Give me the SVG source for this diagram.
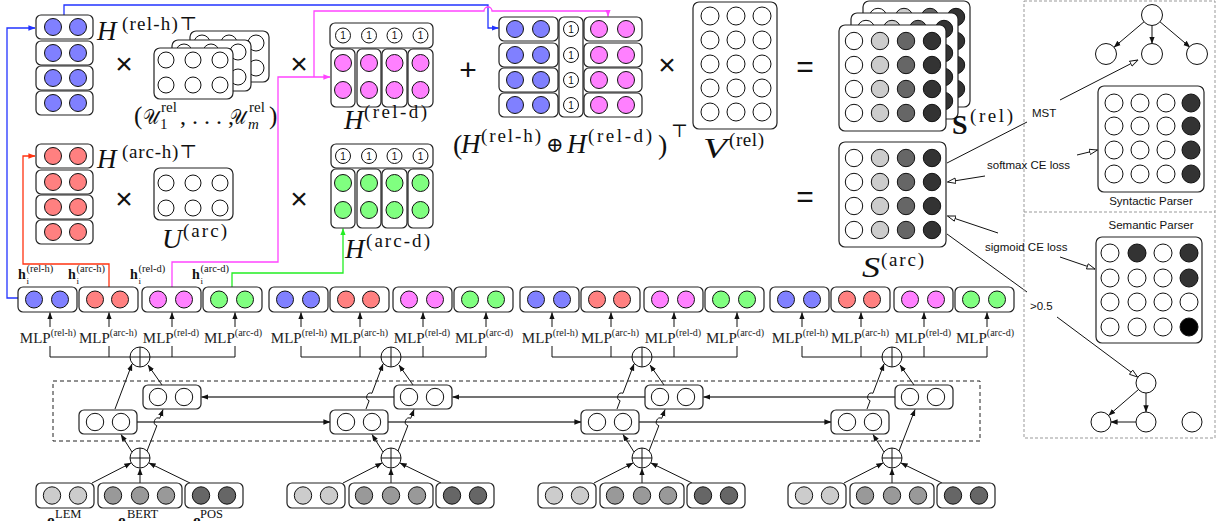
<svg xmlns="http://www.w3.org/2000/svg" width="1226" height="521" viewBox="0 0 1226 521">
<style>
.bx{fill:#fff;stroke:#222;stroke-width:1.2}
.c{stroke:#111;stroke-width:1}
.w{fill:#fff}.bl{fill:#8080ff}.rd{fill:#ff8080}.mg{fill:#ff80ff}.gr{fill:#80ff80}
.g1{fill:#cccccc}.g2{fill:#999999}.g3{fill:#666666}.g4{fill:#333333}.k{fill:#000}
.m{font-family:"Liberation Serif","DejaVu Serif",serif;fill:#111}
.it{font-style:italic}
.s{font-family:"Liberation Sans",Arial,sans-serif;fill:#111;font-size:11.5px}
.ln{fill:none;stroke:#111;stroke-width:1}
.lg{fill:none;stroke:#444;stroke-width:1.3}
.op{font-family:"Liberation Sans","DejaVu Sans",sans-serif;font-size:30px;fill:#111;text-anchor:middle}
.one{font-family:"Liberation Sans",sans-serif;font-size:10px;text-anchor:middle;fill:#111}
.mlp{font-family:"Liberation Serif","DejaVu Serif",serif;font-size:15px;fill:#222;text-anchor:middle}
.hb{font-family:"Liberation Serif","DejaVu Serif",serif;fill:#111}
</style>
<defs>
<marker id="aK" viewBox="0 0 10 10" refX="9.5" refY="5" markerWidth="7" markerHeight="7" orient="auto" markerUnits="userSpaceOnUse"><path d="M0,1.2 L10,5 L0,8.8 z" fill="#111"/></marker>
<marker id="aB" viewBox="0 0 10 10" refX="9.5" refY="5" markerWidth="7" markerHeight="7" orient="auto" markerUnits="userSpaceOnUse"><path d="M0,1.2 L10,5 L0,8.8 z" fill="#2233ff"/></marker>
<marker id="aR" viewBox="0 0 10 10" refX="9.5" refY="5" markerWidth="7" markerHeight="7" orient="auto" markerUnits="userSpaceOnUse"><path d="M0,1.2 L10,5 L0,8.8 z" fill="#ff3311"/></marker>
<marker id="aM" viewBox="0 0 10 10" refX="9.5" refY="5" markerWidth="7" markerHeight="7" orient="auto" markerUnits="userSpaceOnUse"><path d="M0,1.2 L10,5 L0,8.8 z" fill="#ff44ff"/></marker>
<marker id="aG" viewBox="0 0 10 10" refX="9.5" refY="5" markerWidth="7" markerHeight="7" orient="auto" markerUnits="userSpaceOnUse"><path d="M0,1.2 L10,5 L0,8.8 z" fill="#22ee22"/></marker>
<marker id="aO" viewBox="0 0 10 10" refX="9.5" refY="5" markerWidth="9" markerHeight="9" orient="auto" markerUnits="userSpaceOnUse"><path d="M0.5,2 L9.5,5 L0.5,8 z" fill="#fff" stroke="#111" stroke-width="1"/></marker>
</defs>
<rect width="1226" height="521" fill="#fff"/>

<!-- connectors -->
<g id="connectors">
 <g id="colored-links" stroke-width="1.3" fill="none">
  <path d="M18,298 H7 V28 H35" stroke="#2233ff" marker-end="url(#aB)"/>
  <path d="M64,15 V5 H488 V28 H498.5" stroke="#2233ff" marker-end="url(#aB)"/>
  <path d="M109,287 V264 H23 V156 H35" stroke="#ff3311" marker-end="url(#aR)"/>
  <path d="M172,287 V262 H278 V77 H330" stroke="#ff44ff" marker-end="url(#aM)"/>
  <path d="M314,77 V11 H484 A4,4 0 0 1 492,11 H608 V16.5" stroke="#ff44ff" marker-end="url(#aM)"/>
  <path d="M232,287 V273 H343 V228.5" stroke="#22ee22" marker-end="url(#aG)"/>
 </g>
 <g id="loss-links">
  <path class="ln" d="M947,163 L1027,122"/>
  <path class="ln" d="M1060,100 L1138,60" marker-end="url(#aO)"/>
  <path class="ln" d="M985,176 L947.5,182" marker-end="url(#aO)"/>
  <path class="ln" d="M1077,155 L1097.5,150" marker-end="url(#aO)"/>
  <path class="ln" d="M998,233 L947.5,216" marker-end="url(#aO)"/>
  <path class="ln" d="M1060,257 L1095,269" marker-end="url(#aO)"/>
  <path class="ln" d="M947,234 L1027,292"/>
  <path class="ln" d="M1057,317 L1137.5,377" marker-end="url(#aO)"/>
 </g>
 <g id="tree-links">
  <path class="ln" d="M1144,21.8 L1114,47.2" marker-end="url(#aK)"/>
  <path class="ln" d="M1152,25.5 V43.5" marker-end="url(#aK)"/>
  <path class="ln" d="M1160,21.8 L1190,47.2" marker-end="url(#aK)"/>
  <path class="ln" d="M1138.4,389.6 L1108.6,415.4" marker-end="url(#aK)"/>
  <path class="ln" d="M1146,393 V412" marker-end="url(#aK)"/>
  <path class="ln" d="M1136,422 H1111" marker-end="url(#aK)"/>
 </g>
 <g id="lstm-links">
  <path class="lg" d="M137,422 H330" marker-end="url(#aK)"/>
  <path class="lg" d="M388,422 H581" marker-end="url(#aK)"/>
  <path class="lg" d="M639,422 H831" marker-end="url(#aK)"/>
  <path class="lg" d="M394,397 H201.5" marker-end="url(#aK)"/>
  <path class="lg" d="M645,397 H452.5" marker-end="url(#aK)"/>
  <path class="lg" d="M895,397 H703.5" marker-end="url(#aK)"/>
 </g>
 <g id="col1-links" transform="translate(18,0)">
  <path class="ln" d="M32,357 H217 M32,357 V346 M91,357 V346 M154,357 V346 M217,357 V346"/>
  <path class="ln" d="M32,327 V312.5" marker-end="url(#aK)"/><path class="ln" d="M91,327 V312.5" marker-end="url(#aK)"/><path class="ln" d="M154,327 V312.5" marker-end="url(#aK)"/><path class="ln" d="M217,327 V312.5" marker-end="url(#aK)"/>
  <path class="ln" d="M114,452 L103,434.5" marker-end="url(#aK)"/>
  <path class="ln" d="M129,451 L138.85,425.73 A4,4 0 0 1 141.75,418.27 L145,409.5" marker-end="url(#aK)"/>
  <path class="ln" d="M97,409 L114,364" marker-end="url(#aK)"/>
  <path class="ln" d="M144,385 L130,365" marker-end="url(#aK)"/>
  <path class="ln" d="M74,483 L113,463" marker-end="url(#aK)"/>
  <path class="ln" d="M122,483 V468.5" marker-end="url(#aK)"/>
  <path class="ln" d="M172,483 L131,463" marker-end="url(#aK)"/>
 </g>
 <g id="col2-links" transform="translate(269,0)">
  <path class="ln" d="M32,357 H217 M32,357 V346 M91,357 V346 M154,357 V346 M217,357 V346"/>
  <path class="ln" d="M32,327 V312.5" marker-end="url(#aK)"/><path class="ln" d="M91,327 V312.5" marker-end="url(#aK)"/><path class="ln" d="M154,327 V312.5" marker-end="url(#aK)"/><path class="ln" d="M217,327 V312.5" marker-end="url(#aK)"/>
  <path class="ln" d="M114,452 L103,434.5" marker-end="url(#aK)"/>
  <path class="ln" d="M129,451 L138.85,425.73 A4,4 0 0 1 141.75,418.27 L145,409.5" marker-end="url(#aK)"/>
  <path class="ln" d="M97,409 L100.12,400.74 A4,4 0 0 1 102.94,393.26 L114,364" marker-end="url(#aK)"/>
  <path class="ln" d="M144,385 L130,365" marker-end="url(#aK)"/>
  <path class="ln" d="M74,483 L113,463" marker-end="url(#aK)"/>
  <path class="ln" d="M122,483 V468.5" marker-end="url(#aK)"/>
  <path class="ln" d="M172,483 L131,463" marker-end="url(#aK)"/>
 </g>
 <g id="col3-links" transform="translate(520,0)">
  <path class="ln" d="M32,357 H217 M32,357 V346 M91,357 V346 M154,357 V346 M217,357 V346"/>
  <path class="ln" d="M32,327 V312.5" marker-end="url(#aK)"/><path class="ln" d="M91,327 V312.5" marker-end="url(#aK)"/><path class="ln" d="M154,327 V312.5" marker-end="url(#aK)"/><path class="ln" d="M217,327 V312.5" marker-end="url(#aK)"/>
  <path class="ln" d="M114,452 L103,434.5" marker-end="url(#aK)"/>
  <path class="ln" d="M129,451 L138.85,425.73 A4,4 0 0 1 141.75,418.27 L145,409.5" marker-end="url(#aK)"/>
  <path class="ln" d="M97,409 L100.12,400.74 A4,4 0 0 1 102.94,393.26 L114,364" marker-end="url(#aK)"/>
  <path class="ln" d="M144,385 L130,365" marker-end="url(#aK)"/>
  <path class="ln" d="M74,483 L113,463" marker-end="url(#aK)"/>
  <path class="ln" d="M122,483 V468.5" marker-end="url(#aK)"/>
  <path class="ln" d="M172,483 L131,463" marker-end="url(#aK)"/>
 </g>
 <g id="col4-links" transform="translate(770,0)">
  <path class="ln" d="M32,357 H217 M32,357 V346 M91,357 V346 M154,357 V346 M217,357 V346"/>
  <path class="ln" d="M32,327 V312.5" marker-end="url(#aK)"/><path class="ln" d="M91,327 V312.5" marker-end="url(#aK)"/><path class="ln" d="M154,327 V312.5" marker-end="url(#aK)"/><path class="ln" d="M217,327 V312.5" marker-end="url(#aK)"/>
  <path class="ln" d="M114,452 L103,434.5" marker-end="url(#aK)"/>
  <path class="ln" d="M129,451 L145,409.5" marker-end="url(#aK)"/>
  <path class="ln" d="M97,409 L100.12,400.74 A4,4 0 0 1 102.94,393.26 L114,364" marker-end="url(#aK)"/>
  <path class="ln" d="M144,385 L130,365" marker-end="url(#aK)"/>
  <path class="ln" d="M74,483 L113,463" marker-end="url(#aK)"/>
  <path class="ln" d="M122,483 V468.5" marker-end="url(#aK)"/>
  <path class="ln" d="M172,483 L131,463" marker-end="url(#aK)"/>
 </g>
</g>

<!-- dashed frames -->
<rect id="bilstm-frame" x="53" y="381" width="927" height="60" fill="none" stroke="#222" stroke-width="1" stroke-dasharray="4,3"/>
<g id="parser-frames" fill="none" stroke="#999" stroke-width="1" stroke-dasharray="3,2">
 <rect x="1024" y="1" width="191" height="437"/>
 <path d="M1024,212 H1215"/>
</g>

<!-- H(rel-h)T -->
<g id="H-relh-T">
 <rect class="bx" x="36" y="15" width="57" height="24" rx="5"/><circle class="c bl" cx="53" cy="27" r="8.5"/><circle class="c bl" cx="78" cy="27" r="8.5"/>
 <rect class="bx" x="36" y="41" width="57" height="24" rx="5"/><circle class="c bl" cx="53" cy="53" r="8.5"/><circle class="c bl" cx="78" cy="53" r="8.5"/>
 <rect class="bx" x="36" y="66" width="57" height="24" rx="5"/><circle class="c bl" cx="53" cy="78" r="8.5"/><circle class="c bl" cx="78" cy="78" r="8.5"/>
 <rect class="bx" x="36" y="91" width="57" height="24" rx="5"/><circle class="c bl" cx="53" cy="103" r="8.5"/><circle class="c bl" cx="78" cy="103" r="8.5"/>
 <text class="m it" font-size="27" x="97" y="40">H</text>
 <text class="m" font-size="19" x="122" y="30" textLength="75" lengthAdjust="spacing">(rel-h)⊤</text>
</g>
<!-- H(arc-h)T -->
<g id="H-arch-T">
 <rect class="bx" x="36" y="144" width="57" height="24" rx="5"/><circle class="c rd" cx="53" cy="156" r="8.5"/><circle class="c rd" cx="78" cy="156" r="8.5"/>
 <rect class="bx" x="36" y="170" width="57" height="24" rx="5"/><circle class="c rd" cx="53" cy="182" r="8.5"/><circle class="c rd" cx="78" cy="182" r="8.5"/>
 <rect class="bx" x="36" y="195" width="57" height="24" rx="5"/><circle class="c rd" cx="53" cy="207" r="8.5"/><circle class="c rd" cx="78" cy="207" r="8.5"/>
 <rect class="bx" x="36" y="220" width="57" height="24" rx="5"/><circle class="c rd" cx="53" cy="232" r="8.5"/><circle class="c rd" cx="78" cy="232" r="8.5"/>
 <text class="m it" font-size="27" x="97" y="168">H</text>
 <text class="m" font-size="19" x="122" y="158" textLength="75" lengthAdjust="spacing">(arc-h)⊤</text>
</g>

<g id="operators">
 <text class="op" x="124" y="74">×</text>
 <text class="op" x="124" y="209">×</text>
 <text class="op" x="299" y="74">×</text>
 <text class="op" x="299" y="209">×</text>
 <text class="op" x="468" y="80">+</text>
 <text class="op" x="667" y="75">×</text>
 <text class="op" x="805" y="77">=</text>
 <text class="op" x="805" y="207">=</text>
</g>

<!-- U rel stack -->
<g id="U-rel">
 <g transform="translate(190,31)"><rect class="bx" width="79" height="51" rx="6"/><circle class="c w" cx="12" cy="12" r="8"/><circle class="c w" cx="39" cy="12" r="8"/><circle class="c w" cx="66" cy="12" r="8"/><circle class="c w" cx="12" cy="37" r="8"/><circle class="c w" cx="39" cy="37" r="8"/><circle class="c w" cx="66" cy="37" r="8"/></g>
 <g transform="translate(172,40)"><rect class="bx" width="79" height="51" rx="6"/><circle class="c w" cx="12" cy="12" r="8"/><circle class="c w" cx="39" cy="12" r="8"/><circle class="c w" cx="66" cy="12" r="8"/><circle class="c w" cx="12" cy="37" r="8"/><circle class="c w" cx="39" cy="37" r="8"/><circle class="c w" cx="66" cy="37" r="8"/></g>
 <g transform="translate(154,48)"><rect class="bx" width="79" height="51" rx="6"/><circle class="c w" cx="12" cy="12" r="8"/><circle class="c w" cx="39" cy="12" r="8"/><circle class="c w" cx="66" cy="12" r="8"/><circle class="c w" cx="12" cy="37" r="8"/><circle class="c w" cx="39" cy="37" r="8"/><circle class="c w" cx="66" cy="37" r="8"/></g>
 <text class="m" font-size="25" x="134" y="124">(</text>
 <text class="m" font-size="21" x="143" y="124" textLength="16" lengthAdjust="spacingAndGlyphs">𝒰</text>
 <text class="m" font-size="15" x="161" y="112">rel</text>
 <text class="m" font-size="15" x="160" y="129">1</text>
 <text class="m" font-size="24" x="180" y="124">, . . . ,</text>
 <text class="m" font-size="21" x="230" y="124" textLength="16" lengthAdjust="spacingAndGlyphs">𝒰</text>
 <text class="m" font-size="15" x="249" y="112">rel</text>
 <text class="m it" font-size="15" x="248" y="129">m</text>
 <text class="m" font-size="25" x="269" y="124">)</text>
</g>
<!-- U arc -->
<g id="U-arc">
 <g transform="translate(154,168)"><rect class="bx" width="79" height="52" rx="6"/><circle class="c w" cx="12" cy="15" r="8"/><circle class="c w" cx="39" cy="15" r="8"/><circle class="c w" cx="66" cy="15" r="8"/><circle class="c w" cx="12" cy="40" r="8"/><circle class="c w" cx="39" cy="40" r="8"/><circle class="c w" cx="66" cy="40" r="8"/></g>
 <text class="m it" font-size="28" x="162" y="248">U</text>
 <text class="m" font-size="19" x="183" y="237" textLength="44" lengthAdjust="spacing">(arc)</text>
</g>

<!-- H(rel-d) -->
<g id="H-reld">
 <rect class="bx" x="330" y="23" width="103" height="25" rx="5"/>
 <circle class="c w" cx="343" cy="35.5" r="7.5"/><circle class="c w" cx="369" cy="35.5" r="7.5"/><circle class="c w" cx="394.5" cy="35.5" r="7.5"/><circle class="c w" cx="420.5" cy="35.5" r="7.5"/>
 <text class="one" x="343" y="39">1</text><text class="one" x="369" y="39">1</text><text class="one" x="394.5" y="39">1</text><text class="one" x="420.5" y="39">1</text>
 <rect class="bx" x="331" y="49" width="24" height="58" rx="5"/><rect class="bx" x="357" y="49" width="24" height="58" rx="5"/><rect class="bx" x="382" y="49" width="25" height="58" rx="5"/><rect class="bx" x="408" y="49" width="25" height="58" rx="5"/>
 <circle class="c mg" cx="343" cy="63" r="8.5"/><circle class="c mg" cx="369" cy="63" r="8.5"/><circle class="c mg" cx="394.5" cy="63" r="8.5"/><circle class="c mg" cx="420.5" cy="63" r="8.5"/>
 <circle class="c mg" cx="343" cy="90" r="8.5"/><circle class="c mg" cx="369" cy="90" r="8.5"/><circle class="c mg" cx="394.5" cy="90" r="8.5"/><circle class="c mg" cx="420.5" cy="90" r="8.5"/>
 <text class="m it" font-size="27" x="344" y="129">H</text>
 <text class="m" font-size="19" x="364" y="118" textLength="63" lengthAdjust="spacing">(rel-d)</text>
</g>
<!-- H(arc-d) -->
<g id="H-arcd">
 <rect class="bx" x="331" y="144" width="102" height="24" rx="5"/>
 <circle class="c w" cx="343" cy="156" r="7.5"/><circle class="c w" cx="369" cy="156" r="7.5"/><circle class="c w" cx="394.5" cy="156" r="7.5"/><circle class="c w" cx="420.5" cy="156" r="7.5"/>
 <text class="one" x="343" y="159.5">1</text><text class="one" x="369" y="159.5">1</text><text class="one" x="394.5" y="159.5">1</text><text class="one" x="420.5" y="159.5">1</text>
 <rect class="bx" x="331" y="169" width="24" height="59" rx="5"/><rect class="bx" x="357" y="169" width="24" height="59" rx="5"/><rect class="bx" x="382" y="169" width="25" height="59" rx="5"/><rect class="bx" x="408" y="169" width="25" height="59" rx="5"/>
 <circle class="c gr" cx="343" cy="183" r="8.5"/><circle class="c gr" cx="369" cy="183" r="8.5"/><circle class="c gr" cx="394.5" cy="183" r="8.5"/><circle class="c gr" cx="420.5" cy="183" r="8.5"/>
 <circle class="c gr" cx="343" cy="210" r="8.5"/><circle class="c gr" cx="369" cy="210" r="8.5"/><circle class="c gr" cx="394.5" cy="210" r="8.5"/><circle class="c gr" cx="420.5" cy="210" r="8.5"/>
 <text class="m it" font-size="27" x="345" y="258">H</text>
 <text class="m" font-size="19" x="366" y="247" textLength="64" lengthAdjust="spacing">(arc-d)</text>
</g>

<!-- concat -->
<g id="H-concat-T">
 <rect class="bx" x="499" y="17" width="59" height="24" rx="5"/><circle class="c bl" cx="515" cy="29" r="8.5"/><circle class="c bl" cx="541" cy="29" r="8.5"/>
 <rect class="bx" x="499" y="43" width="59" height="24" rx="5"/><circle class="c bl" cx="515" cy="55" r="8.5"/><circle class="c bl" cx="541" cy="55" r="8.5"/>
 <rect class="bx" x="499" y="68" width="59" height="24" rx="5"/><circle class="c bl" cx="515" cy="80" r="8.5"/><circle class="c bl" cx="541" cy="80" r="8.5"/>
 <rect class="bx" x="499" y="93" width="59" height="24" rx="5"/><circle class="c bl" cx="515" cy="105" r="8.5"/><circle class="c bl" cx="541" cy="105" r="8.5"/>
 <rect class="bx" x="559" y="17" width="24" height="100" rx="5"/>
 <circle class="c w" cx="571" cy="29" r="7.5"/><circle class="c w" cx="571" cy="55" r="7.5"/><circle class="c w" cx="571" cy="80" r="7.5"/><circle class="c w" cx="571" cy="105" r="7.5"/>
 <text class="one" x="571" y="32.5">1</text><text class="one" x="571" y="58.5">1</text><text class="one" x="571" y="83.5">1</text><text class="one" x="571" y="108.5">1</text>
 <rect class="bx" x="584" y="17" width="58" height="24" rx="5"/><circle class="c mg" cx="599" cy="29" r="8.5"/><circle class="c mg" cx="626" cy="29" r="8.5"/>
 <rect class="bx" x="584" y="43" width="58" height="24" rx="5"/><circle class="c mg" cx="599" cy="55" r="8.5"/><circle class="c mg" cx="626" cy="55" r="8.5"/>
 <rect class="bx" x="584" y="68" width="58" height="24" rx="5"/><circle class="c mg" cx="599" cy="80" r="8.5"/><circle class="c mg" cx="626" cy="80" r="8.5"/>
 <rect class="bx" x="584" y="93" width="58" height="24" rx="5"/><circle class="c mg" cx="599" cy="105" r="8.5"/><circle class="c mg" cx="626" cy="105" r="8.5"/>
 <text class="m" font-size="28" x="453" y="154">(</text>
 <text class="m it" font-size="27" x="461" y="153">H</text>
 <text class="m" font-size="19" x="481" y="142" textLength="60" lengthAdjust="spacing">(rel-h)</text>
 <text class="m" font-size="21" x="546" y="152">⊕</text>
 <text class="m it" font-size="27" x="567" y="153">H</text>
 <text class="m" font-size="19" x="588" y="142" textLength="64" lengthAdjust="spacing">(rel-d)</text>
 <text class="m" font-size="28" x="658" y="154">)</text>
 <text class="m" font-size="18" x="671" y="137">⊤</text>
</g>

<!-- V rel -->
<g id="V-rel">
 <rect class="bx" x="693" y="2" width="84" height="127" rx="6"/>
 <circle class="c w" cx="710" cy="16" r="9"/><circle class="c w" cx="736" cy="16" r="9"/><circle class="c w" cx="762" cy="16" r="9"/>
 <circle class="c w" cx="710" cy="40" r="9"/><circle class="c w" cx="736" cy="40" r="9"/><circle class="c w" cx="762" cy="40" r="9"/>
 <circle class="c w" cx="710" cy="64" r="9"/><circle class="c w" cx="736" cy="64" r="9"/><circle class="c w" cx="762" cy="64" r="9"/>
 <circle class="c w" cx="710" cy="88" r="9"/><circle class="c w" cx="736" cy="88" r="9"/><circle class="c w" cx="762" cy="88" r="9"/>
 <circle class="c w" cx="710" cy="112" r="9"/><circle class="c w" cx="736" cy="112" r="9"/><circle class="c w" cx="762" cy="112" r="9"/>
 <text class="m it" font-size="29" x="703" y="158" textLength="24" lengthAdjust="spacingAndGlyphs">V</text>
 <text class="m" font-size="19" x="729" y="146" textLength="35" lengthAdjust="spacing">(rel)</text>
</g>

<!-- S rel -->
<g id="S-rel">
 <g transform="translate(863,1)"><rect class="bx" width="107" height="106" rx="6"/><g>
  <circle class="c w" cx="15" cy="16" r="8.7"/><circle class="c g1" cx="41" cy="16" r="8.7"/><circle class="c g3" cx="67" cy="16" r="8.7"/><circle class="c g4" cx="93" cy="16" r="8.7"/>
  <circle class="c w" cx="15" cy="40" r="8.7"/><circle class="c g1" cx="41" cy="40" r="8.7"/><circle class="c g3" cx="67" cy="40" r="8.7"/><circle class="c g4" cx="93" cy="40" r="8.7"/>
  <circle class="c w" cx="15" cy="64" r="8.7"/><circle class="c g1" cx="41" cy="64" r="8.7"/><circle class="c g3" cx="67" cy="64" r="8.7"/><circle class="c g4" cx="93" cy="64" r="8.7"/>
  <circle class="c w" cx="15" cy="88" r="8.7"/><circle class="c g1" cx="41" cy="88" r="8.7"/><circle class="c g3" cx="67" cy="88" r="8.7"/><circle class="c g4" cx="93" cy="88" r="8.7"/></g></g>
 <g transform="translate(851,13)"><rect class="bx" width="107" height="106" rx="6"/><g>
  <circle class="c w" cx="15" cy="16" r="8.7"/><circle class="c g1" cx="41" cy="16" r="8.7"/><circle class="c g3" cx="67" cy="16" r="8.7"/><circle class="c g4" cx="93" cy="16" r="8.7"/>
  <circle class="c w" cx="15" cy="40" r="8.7"/><circle class="c g1" cx="41" cy="40" r="8.7"/><circle class="c g3" cx="67" cy="40" r="8.7"/><circle class="c g4" cx="93" cy="40" r="8.7"/>
  <circle class="c w" cx="15" cy="64" r="8.7"/><circle class="c g1" cx="41" cy="64" r="8.7"/><circle class="c g3" cx="67" cy="64" r="8.7"/><circle class="c g4" cx="93" cy="64" r="8.7"/>
  <circle class="c w" cx="15" cy="88" r="8.7"/><circle class="c g1" cx="41" cy="88" r="8.7"/><circle class="c g3" cx="67" cy="88" r="8.7"/><circle class="c g4" cx="93" cy="88" r="8.7"/></g></g>
 <g transform="translate(839,25)"><rect class="bx" width="107" height="106" rx="6"/><g>
  <circle class="c w" cx="15" cy="16" r="8.7"/><circle class="c g1" cx="41" cy="16" r="8.7"/><circle class="c g3" cx="67" cy="16" r="8.7"/><circle class="c g4" cx="93" cy="16" r="8.7"/>
  <circle class="c w" cx="15" cy="40" r="8.7"/><circle class="c g1" cx="41" cy="40" r="8.7"/><circle class="c g3" cx="67" cy="40" r="8.7"/><circle class="c g4" cx="93" cy="40" r="8.7"/>
  <circle class="c w" cx="15" cy="64" r="8.7"/><circle class="c g1" cx="41" cy="64" r="8.7"/><circle class="c g3" cx="67" cy="64" r="8.7"/><circle class="c g4" cx="93" cy="64" r="8.7"/>
  <circle class="c w" cx="15" cy="88" r="8.7"/><circle class="c g1" cx="41" cy="88" r="8.7"/><circle class="c g3" cx="67" cy="88" r="8.7"/><circle class="c g4" cx="93" cy="88" r="8.7"/></g></g>
 <text class="m" font-size="28" x="952" y="134" font-weight="bold">S</text>
 <text class="m" font-size="19" x="970" y="122" textLength="43" lengthAdjust="spacing">(rel)</text>
</g>

<!-- S arc -->
<g id="S-arc">
 <g transform="translate(839,142)"><rect class="bx" width="107" height="105" rx="6"/>
  <circle class="c w" cx="15" cy="16" r="8.7"/><circle class="c g1" cx="41" cy="16" r="8.7"/><circle class="c g3" cx="67" cy="16" r="8.7"/><circle class="c g4" cx="93" cy="16" r="8.7"/>
  <circle class="c w" cx="15" cy="40" r="8.7"/><circle class="c g1" cx="41" cy="40" r="8.7"/><circle class="c g3" cx="67" cy="40" r="8.7"/><circle class="c g4" cx="93" cy="40" r="8.7"/>
  <circle class="c w" cx="15" cy="64" r="8.7"/><circle class="c g1" cx="41" cy="64" r="8.7"/><circle class="c g3" cx="67" cy="64" r="8.7"/><circle class="c g4" cx="93" cy="64" r="8.7"/>
  <circle class="c w" cx="15" cy="88" r="8.7"/><circle class="c g1" cx="41" cy="88" r="8.7"/><circle class="c g3" cx="67" cy="88" r="8.7"/><circle class="c g4" cx="93" cy="88" r="8.7"/></g>
 <text class="m it" font-size="29" x="862" y="277" textLength="18" lengthAdjust="spacingAndGlyphs">S</text>
 <text class="m" font-size="19" x="881" y="266" textLength="43" lengthAdjust="spacing">(arc)</text>
</g>

<!-- right panel -->
<g id="loss-labels">
 <text class="s" x="1032" y="117">MST</text>
 <text class="s" x="987" y="169">softmax CE loss</text>
 <text class="s" x="985" y="251">sigmoid CE loss</text>
 <text class="s" x="1030" y="310">&gt;0.5</text>
</g>
<g id="syntactic-tree">
 <circle class="c w" cx="1152" cy="15" r="10.5"/>
 <circle class="c w" cx="1106" cy="54" r="10.5"/>
 <circle class="c w" cx="1152" cy="54" r="10.5"/>
 <circle class="c w" cx="1197" cy="54" r="10.5"/>
</g>
<g id="syntactic-matrix">
 <rect class="bx" x="1098" y="86" width="106" height="106" rx="6"/>
 <circle class="c w" cx="1114" cy="103" r="9"/><circle class="c w" cx="1140" cy="103" r="9"/><circle class="c w" cx="1166" cy="103" r="9"/><circle class="c g4" cx="1191" cy="103" r="9"/>
 <circle class="c w" cx="1114" cy="126" r="9"/><circle class="c w" cx="1140" cy="126" r="9"/><circle class="c w" cx="1166" cy="126" r="9"/><circle class="c g4" cx="1191" cy="126" r="9"/>
 <circle class="c w" cx="1114" cy="150" r="9"/><circle class="c w" cx="1140" cy="150" r="9"/><circle class="c w" cx="1166" cy="150" r="9"/><circle class="c g4" cx="1191" cy="150" r="9"/>
 <circle class="c w" cx="1114" cy="174" r="9"/><circle class="c w" cx="1140" cy="174" r="9"/><circle class="c w" cx="1166" cy="174" r="9"/><circle class="c g4" cx="1191" cy="174" r="9"/>
 <text class="s" x="1151" y="205" text-anchor="middle">Syntactic Parser</text>
</g>
<g id="semantic-matrix">
 <text class="s" x="1151" y="229" text-anchor="middle">Semantic Parser</text>
 <rect class="bx" x="1096" y="237" width="106" height="106" rx="6"/>
 <circle class="c w" cx="1110" cy="253" r="9"/><circle class="c g4" cx="1137" cy="253" r="9"/><circle class="c w" cx="1163" cy="253" r="9"/><circle class="c g4" cx="1189" cy="253" r="9"/>
 <circle class="c w" cx="1110" cy="278" r="9"/><circle class="c w" cx="1137" cy="278" r="9"/><circle class="c w" cx="1163" cy="278" r="9"/><circle class="c g4" cx="1189" cy="278" r="9"/>
 <circle class="c w" cx="1110" cy="302" r="9"/><circle class="c w" cx="1137" cy="302" r="9"/><circle class="c w" cx="1163" cy="302" r="9"/><circle class="c w" cx="1189" cy="302" r="9"/>
 <circle class="c w" cx="1110" cy="327" r="9"/><circle class="c w" cx="1137" cy="327" r="9"/><circle class="c w" cx="1163" cy="327" r="9"/><circle class="c k" cx="1189" cy="327" r="9"/>
</g>
<g id="semantic-graph">
 <circle class="c w" cx="1146" cy="383" r="10"/>
 <circle class="c w" cx="1101" cy="422" r="10"/>
 <circle class="c w" cx="1146" cy="422" r="10"/>
 <circle class="c w" cx="1192" cy="422" r="10"/>
</g>

<!-- columns -->
<g id="col1" transform="translate(18,0)">
 <g id="c1-h-relh"><rect class="bx" x="0" y="287" width="59" height="25" rx="5"/><circle class="c bl" cx="16" cy="299.5" r="8.5"/><circle class="c bl" cx="42" cy="299.5" r="8.5"/></g>
 <g id="c1-h-arch"><rect class="bx" x="61" y="287" width="59" height="25" rx="5"/><circle class="c rd" cx="77" cy="299.5" r="8.5"/><circle class="c rd" cx="102" cy="299.5" r="8.5"/></g>
 <g id="c1-h-reld"><rect class="bx" x="124" y="287" width="59" height="25" rx="5"/><circle class="c mg" cx="140" cy="299.5" r="8.5"/><circle class="c mg" cx="166" cy="299.5" r="8.5"/></g>
 <g id="c1-h-arcd"><rect class="bx" x="185" y="287" width="59" height="25" rx="5"/><circle class="c gr" cx="201" cy="299.5" r="8.5"/><circle class="c gr" cx="227" cy="299.5" r="8.5"/></g>
 <g id="c1-h-labels" class="hb">
  <text x="0" y="279" font-size="14" font-weight="bold">h</text><text x="8.5" y="272" font-size="10.5">(rel-h)</text><text x="8.5" y="284" font-size="9">i</text>
  <text x="50" y="279" font-size="14" font-weight="bold">h</text><text x="58.5" y="272" font-size="10.5">(arc-h)</text><text x="58.5" y="284" font-size="9">i</text>
  <text x="112" y="279" font-size="14" font-weight="bold">h</text><text x="120.5" y="272" font-size="10.5">(rel-d)</text><text x="120.5" y="284" font-size="9">i</text>
  <text x="174" y="279" font-size="14" font-weight="bold">h</text><text x="182.5" y="272" font-size="10.5">(arc-d)</text><text x="182.5" y="284" font-size="9">i</text>
 </g>
 <g id="c1-mlp">
  <text class="mlp" x="30" y="343">MLP<tspan dy="-7" font-size="10">(rel-h)</tspan></text>
  <text class="mlp" x="90" y="343">MLP<tspan dy="-7" font-size="10">(arc-h)</tspan></text>
  <text class="mlp" x="153" y="343">MLP<tspan dy="-7" font-size="10">(rel-d)</tspan></text>
  <text class="mlp" x="215" y="343">MLP<tspan dy="-7" font-size="10">(arc-d)</tspan></text>
 </g>
 <g id="c1-concat-top"><circle class="c w" cx="122" cy="357" r="10"/><path class="ln" d="M112,357 H132 M122,347 V367"/></g>
 <g id="c1-bwd"><rect class="bx" x="125" y="385" width="58" height="24" rx="5"/><circle class="c w" cx="140" cy="397" r="8.7"/><circle class="c w" cx="166" cy="397" r="8.7"/></g>
 <g id="c1-fwd"><rect class="bx" x="61" y="410" width="58" height="24" rx="5"/><circle class="c w" cx="77" cy="422" r="8.7"/><circle class="c w" cx="103" cy="422" r="8.7"/></g>
 <g id="c1-concat-in"><circle class="c w" cx="122" cy="458" r="10"/><path class="ln" d="M112,458 H132 M122,448 V468"/></g>
 <g id="c1-lem"><rect class="bx" x="18" y="483" width="58" height="25" rx="5"/><circle class="c g1" cx="34" cy="495.5" r="8.7"/><circle class="c g1" cx="60" cy="495.5" r="8.7"/></g>
 <g id="c1-bert"><rect class="bx" x="80" y="483" width="84" height="25" rx="5"/><circle class="c g2" cx="95" cy="495.5" r="8.7"/><circle class="c g2" cx="122" cy="495.5" r="8.7"/><circle class="c g2" cx="148" cy="495.5" r="8.7"/></g>
 <g id="c1-pos"><rect class="bx" x="167" y="483" width="58" height="25" rx="5"/><circle class="c g3" cx="183" cy="495.5" r="8.7"/><circle class="c g3" cx="209" cy="495.5" r="8.7"/></g>
 <g id="c1-e-labels" class="hb">
  <text x="29" y="526" font-size="17" font-weight="bold">e</text><text x="37" y="518" font-size="12.5">LEM</text>
  <text x="100" y="526" font-size="17" font-weight="bold">e</text><text x="109" y="518" font-size="12.5">BERT</text>
  <text x="175" y="526" font-size="17" font-weight="bold">e</text><text x="182" y="518" font-size="12.5">POS</text>
 </g>
</g>

<g id="col2" transform="translate(269,0)">
 <g id="c2-h-relh"><rect class="bx" x="0" y="287" width="59" height="25" rx="5"/><circle class="c bl" cx="16" cy="299.5" r="8.5"/><circle class="c bl" cx="42" cy="299.5" r="8.5"/></g>
 <g id="c2-h-arch"><rect class="bx" x="61" y="287" width="59" height="25" rx="5"/><circle class="c rd" cx="77" cy="299.5" r="8.5"/><circle class="c rd" cx="102" cy="299.5" r="8.5"/></g>
 <g id="c2-h-reld"><rect class="bx" x="124" y="287" width="59" height="25" rx="5"/><circle class="c mg" cx="140" cy="299.5" r="8.5"/><circle class="c mg" cx="166" cy="299.5" r="8.5"/></g>
 <g id="c2-h-arcd"><rect class="bx" x="185" y="287" width="59" height="25" rx="5"/><circle class="c gr" cx="201" cy="299.5" r="8.5"/><circle class="c gr" cx="227" cy="299.5" r="8.5"/></g>
 <g id="c2-mlp">
  <text class="mlp" x="30" y="343">MLP<tspan dy="-7" font-size="10">(rel-h)</tspan></text>
  <text class="mlp" x="90" y="343">MLP<tspan dy="-7" font-size="10">(arc-h)</tspan></text>
  <text class="mlp" x="153" y="343">MLP<tspan dy="-7" font-size="10">(rel-d)</tspan></text>
  <text class="mlp" x="215" y="343">MLP<tspan dy="-7" font-size="10">(arc-d)</tspan></text>
 </g>
 <g id="c2-concat-top"><circle class="c w" cx="122" cy="357" r="10"/><path class="ln" d="M112,357 H132 M122,347 V367"/></g>
 <g id="c2-bwd"><rect class="bx" x="125" y="385" width="58" height="24" rx="5"/><circle class="c w" cx="140" cy="397" r="8.7"/><circle class="c w" cx="166" cy="397" r="8.7"/></g>
 <g id="c2-fwd"><rect class="bx" x="61" y="410" width="58" height="24" rx="5"/><circle class="c w" cx="77" cy="422" r="8.7"/><circle class="c w" cx="103" cy="422" r="8.7"/></g>
 <g id="c2-concat-in"><circle class="c w" cx="122" cy="458" r="10"/><path class="ln" d="M112,458 H132 M122,448 V468"/></g>
 <g id="c2-lem"><rect class="bx" x="18" y="483" width="58" height="25" rx="5"/><circle class="c g1" cx="34" cy="495.5" r="8.7"/><circle class="c g1" cx="60" cy="495.5" r="8.7"/></g>
 <g id="c2-bert"><rect class="bx" x="80" y="483" width="84" height="25" rx="5"/><circle class="c g2" cx="95" cy="495.5" r="8.7"/><circle class="c g2" cx="122" cy="495.5" r="8.7"/><circle class="c g2" cx="148" cy="495.5" r="8.7"/></g>
 <g id="c2-pos"><rect class="bx" x="167" y="483" width="58" height="25" rx="5"/><circle class="c g3" cx="183" cy="495.5" r="8.7"/><circle class="c g3" cx="209" cy="495.5" r="8.7"/></g>
</g>

<g id="col3" transform="translate(520,0)">
 <g id="c3-h-relh"><rect class="bx" x="0" y="287" width="59" height="25" rx="5"/><circle class="c bl" cx="16" cy="299.5" r="8.5"/><circle class="c bl" cx="42" cy="299.5" r="8.5"/></g>
 <g id="c3-h-arch"><rect class="bx" x="61" y="287" width="59" height="25" rx="5"/><circle class="c rd" cx="77" cy="299.5" r="8.5"/><circle class="c rd" cx="102" cy="299.5" r="8.5"/></g>
 <g id="c3-h-reld"><rect class="bx" x="124" y="287" width="59" height="25" rx="5"/><circle class="c mg" cx="140" cy="299.5" r="8.5"/><circle class="c mg" cx="166" cy="299.5" r="8.5"/></g>
 <g id="c3-h-arcd"><rect class="bx" x="185" y="287" width="59" height="25" rx="5"/><circle class="c gr" cx="201" cy="299.5" r="8.5"/><circle class="c gr" cx="227" cy="299.5" r="8.5"/></g>
 <g id="c3-mlp">
  <text class="mlp" x="30" y="343">MLP<tspan dy="-7" font-size="10">(rel-h)</tspan></text>
  <text class="mlp" x="90" y="343">MLP<tspan dy="-7" font-size="10">(arc-h)</tspan></text>
  <text class="mlp" x="153" y="343">MLP<tspan dy="-7" font-size="10">(rel-d)</tspan></text>
  <text class="mlp" x="215" y="343">MLP<tspan dy="-7" font-size="10">(arc-d)</tspan></text>
 </g>
 <g id="c3-concat-top"><circle class="c w" cx="122" cy="357" r="10"/><path class="ln" d="M112,357 H132 M122,347 V367"/></g>
 <g id="c3-bwd"><rect class="bx" x="125" y="385" width="58" height="24" rx="5"/><circle class="c w" cx="140" cy="397" r="8.7"/><circle class="c w" cx="166" cy="397" r="8.7"/></g>
 <g id="c3-fwd"><rect class="bx" x="61" y="410" width="58" height="24" rx="5"/><circle class="c w" cx="77" cy="422" r="8.7"/><circle class="c w" cx="103" cy="422" r="8.7"/></g>
 <g id="c3-concat-in"><circle class="c w" cx="122" cy="458" r="10"/><path class="ln" d="M112,458 H132 M122,448 V468"/></g>
 <g id="c3-lem"><rect class="bx" x="18" y="483" width="58" height="25" rx="5"/><circle class="c g1" cx="34" cy="495.5" r="8.7"/><circle class="c g1" cx="60" cy="495.5" r="8.7"/></g>
 <g id="c3-bert"><rect class="bx" x="80" y="483" width="84" height="25" rx="5"/><circle class="c g2" cx="95" cy="495.5" r="8.7"/><circle class="c g2" cx="122" cy="495.5" r="8.7"/><circle class="c g2" cx="148" cy="495.5" r="8.7"/></g>
 <g id="c3-pos"><rect class="bx" x="167" y="483" width="58" height="25" rx="5"/><circle class="c g3" cx="183" cy="495.5" r="8.7"/><circle class="c g3" cx="209" cy="495.5" r="8.7"/></g>
</g>

<g id="col4" transform="translate(770,0)">
 <g id="c4-h-relh"><rect class="bx" x="0" y="287" width="59" height="25" rx="5"/><circle class="c bl" cx="16" cy="299.5" r="8.5"/><circle class="c bl" cx="42" cy="299.5" r="8.5"/></g>
 <g id="c4-h-arch"><rect class="bx" x="61" y="287" width="59" height="25" rx="5"/><circle class="c rd" cx="77" cy="299.5" r="8.5"/><circle class="c rd" cx="102" cy="299.5" r="8.5"/></g>
 <g id="c4-h-reld"><rect class="bx" x="124" y="287" width="59" height="25" rx="5"/><circle class="c mg" cx="140" cy="299.5" r="8.5"/><circle class="c mg" cx="166" cy="299.5" r="8.5"/></g>
 <g id="c4-h-arcd"><rect class="bx" x="185" y="287" width="59" height="25" rx="5"/><circle class="c gr" cx="201" cy="299.5" r="8.5"/><circle class="c gr" cx="227" cy="299.5" r="8.5"/></g>
 <g id="c4-mlp">
  <text class="mlp" x="30" y="343">MLP<tspan dy="-7" font-size="10">(rel-h)</tspan></text>
  <text class="mlp" x="90" y="343">MLP<tspan dy="-7" font-size="10">(arc-h)</tspan></text>
  <text class="mlp" x="153" y="343">MLP<tspan dy="-7" font-size="10">(rel-d)</tspan></text>
  <text class="mlp" x="215" y="343">MLP<tspan dy="-7" font-size="10">(arc-d)</tspan></text>
 </g>
 <g id="c4-concat-top"><circle class="c w" cx="122" cy="357" r="10"/><path class="ln" d="M112,357 H132 M122,347 V367"/></g>
 <g id="c4-bwd"><rect class="bx" x="125" y="385" width="58" height="24" rx="5"/><circle class="c w" cx="140" cy="397" r="8.7"/><circle class="c w" cx="166" cy="397" r="8.7"/></g>
 <g id="c4-fwd"><rect class="bx" x="61" y="410" width="58" height="24" rx="5"/><circle class="c w" cx="77" cy="422" r="8.7"/><circle class="c w" cx="103" cy="422" r="8.7"/></g>
 <g id="c4-concat-in"><circle class="c w" cx="122" cy="458" r="10"/><path class="ln" d="M112,458 H132 M122,448 V468"/></g>
 <g id="c4-lem"><rect class="bx" x="18" y="483" width="58" height="25" rx="5"/><circle class="c g1" cx="34" cy="495.5" r="8.7"/><circle class="c g1" cx="60" cy="495.5" r="8.7"/></g>
 <g id="c4-bert"><rect class="bx" x="80" y="483" width="84" height="25" rx="5"/><circle class="c g2" cx="95" cy="495.5" r="8.7"/><circle class="c g2" cx="122" cy="495.5" r="8.7"/><circle class="c g2" cx="148" cy="495.5" r="8.7"/></g>
 <g id="c4-pos"><rect class="bx" x="167" y="483" width="58" height="25" rx="5"/><circle class="c g3" cx="183" cy="495.5" r="8.7"/><circle class="c g3" cx="209" cy="495.5" r="8.7"/></g>
</g>
</svg>
